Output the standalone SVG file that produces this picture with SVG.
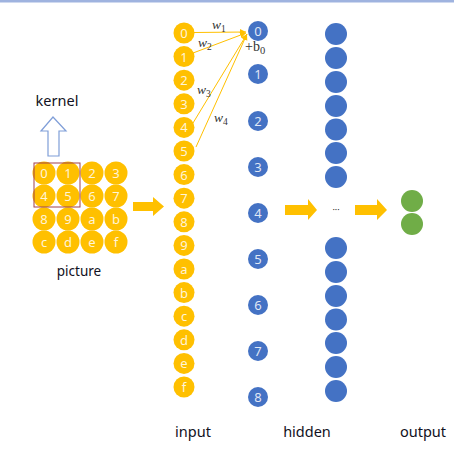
<svg xmlns="http://www.w3.org/2000/svg" width="454" height="465" viewBox="0 0 454 465">
<style>
.y{fill:#FFC000}
.b{fill:#4472C4}
.g{fill:#70AD47}
.n{font-family:"Noto Sans","Liberation Sans",sans-serif;font-size:13px;fill:#ffffff;fill-opacity:0.85;text-anchor:middle;dominant-baseline:central}
.lbl{font-family:"Noto Sans","Liberation Sans",sans-serif;font-size:14.5px;fill:#111122}
.w{font-family:"Liberation Serif",serif;font-style:italic;font-size:13.5px;fill:#333}
.bias{font-family:"Liberation Serif",serif;font-size:14px;fill:#333}
.big{fill:#FFC000}
.wl{stroke:#FFC000;stroke-width:1;fill:none}
</style>
<defs>
<marker id="ah" markerWidth="8" markerHeight="8" refX="6" refY="3" orient="auto" markerUnits="userSpaceOnUse">
<path d="M0,0 L6,3 L0,6 z" fill="#FFC000"/>
</marker>
</defs>
<rect x="0" y="0" width="454" height="2.5" fill="#9fb3df"/>

<g id="kernel">
<polygon points="53,117 66,131 59,131 59,156 48,156 48,131 41,131" fill="#ffffff" stroke="#7f9ed8" stroke-width="1.2"/>
<text class="lbl" x="57" y="106" text-anchor="middle">kernel</text>
</g>

<g id="picture">
<g class="y">
<circle cx="44" cy="173" r="11.5"/><circle cx="68" cy="173" r="11.5"/><circle cx="92" cy="173" r="11.5"/><circle cx="116" cy="173" r="11.5"/>
<circle cx="44" cy="196" r="11.5"/><circle cx="68" cy="196" r="11.5"/><circle cx="92" cy="196" r="11.5"/><circle cx="116" cy="196" r="11.5"/>
<circle cx="44" cy="219" r="11.5"/><circle cx="68" cy="219" r="11.5"/><circle cx="92" cy="219" r="11.5"/><circle cx="116" cy="219" r="11.5"/>
<circle cx="44" cy="242" r="11.5"/><circle cx="68" cy="242" r="11.5"/><circle cx="92" cy="242" r="11.5"/><circle cx="116" cy="242" r="11.5"/>
</g>
<g class="n">
<text x="44" y="173">0</text><text x="68" y="173">1</text><text x="92" y="173">2</text><text x="116" y="173">3</text>
<text x="44" y="196">4</text><text x="68" y="196">5</text><text x="92" y="196">6</text><text x="116" y="196">7</text>
<text x="44" y="219">8</text><text x="68" y="219">9</text><text x="92" y="219">a</text><text x="116" y="219">b</text>
<text x="44" y="242">c</text><text x="68" y="242">d</text><text x="92" y="242">e</text><text x="116" y="242">f</text>
</g>
<rect x="34" y="163" width="46" height="44" fill="none" stroke="#a0414b" stroke-width="1"/>
<text class="lbl" x="79" y="276" text-anchor="middle" style="font-size:13.5px">picture</text>
</g>

<g id="input">
<g class="y">
<circle cx="184" cy="33" r="10.5"/><circle cx="184" cy="56.6" r="10.5"/><circle cx="184" cy="80.2" r="10.5"/><circle cx="184" cy="103.8" r="10.5"/>
<circle cx="184" cy="127.4" r="10.5"/><circle cx="184" cy="151" r="10.5"/><circle cx="184" cy="174.6" r="10.5"/><circle cx="184" cy="198.2" r="10.5"/>
<circle cx="184" cy="221.8" r="10.5"/><circle cx="184" cy="245.4" r="10.5"/><circle cx="184" cy="269" r="10.5"/><circle cx="184" cy="292.6" r="10.5"/>
<circle cx="184" cy="316.2" r="10.5"/><circle cx="184" cy="339.8" r="10.5"/><circle cx="184" cy="363.4" r="10.5"/><circle cx="184" cy="387" r="10.5"/>
</g>
<g class="n">
<text x="184" y="33">0</text><text x="184" y="56.6">1</text><text x="184" y="80.2">2</text><text x="184" y="103.8">3</text>
<text x="184" y="127.4">4</text><text x="184" y="151">5</text><text x="184" y="174.6">6</text><text x="184" y="198.2">7</text>
<text x="184" y="221.8">8</text><text x="184" y="245.4">9</text><text x="184" y="269">a</text><text x="184" y="292.6">b</text>
<text x="184" y="316.2">c</text><text x="184" y="339.8">d</text><text x="184" y="363.4">e</text><text x="184" y="387">f</text>
</g>
<text class="lbl" x="193" y="437" text-anchor="middle">input</text>
</g>

<g id="hidden1">
<g class="b">
<circle cx="258" cy="31" r="10"/><circle cx="258" cy="74" r="10"/><circle cx="258" cy="121" r="10"/>
<circle cx="258" cy="167" r="10"/><circle cx="258" cy="213" r="10"/><circle cx="258" cy="259" r="10"/>
<circle cx="258" cy="305" r="10"/><circle cx="258" cy="351" r="10"/><circle cx="258" cy="397" r="10"/>
</g>
<g class="n">
<text x="258" y="31">0</text><text x="258" y="74">1</text><text x="258" y="121">2</text>
<text x="258" y="167">3</text><text x="258" y="213">4</text><text x="258" y="259">5</text>
<text x="258" y="305">6</text><text x="258" y="351">7</text><text x="258" y="397">8</text>
</g>
<text class="bias" x="245" y="51">+b<tspan font-size="10.5" dy="3">0</tspan></text>
</g>

<g id="hidden2">
<g class="b">
<circle cx="336" cy="34" r="11"/><circle cx="336" cy="58" r="11"/><circle cx="336" cy="82" r="11"/><circle cx="336" cy="106" r="11"/>
<circle cx="336" cy="129.5" r="11"/><circle cx="336" cy="153" r="11"/><circle cx="336" cy="177" r="11"/>
<circle cx="336" cy="248" r="11"/><circle cx="336" cy="272" r="11"/><circle cx="336" cy="296" r="11"/><circle cx="336" cy="319.5" r="11"/>
<circle cx="336" cy="343" r="11"/><circle cx="336" cy="367" r="11"/><circle cx="336" cy="391" r="11"/>
</g>
<text x="336" y="213" text-anchor="middle" style="font-family:'Noto Sans',sans-serif;font-size:9px;fill:#333">···</text>
<text class="lbl" x="307" y="437" text-anchor="middle">hidden</text>
</g>

<g id="output">
<circle class="g" cx="412" cy="201" r="11"/>
<circle class="g" cx="412" cy="224" r="11"/>
<text class="lbl" x="423" y="437" text-anchor="middle">output</text>
</g>

<g id="connectors">
<line class="wl" x1="194" y1="32.5" x2="246" y2="32" marker-end="url(#ah)"/>
<line class="wl" x1="193" y1="53" x2="246" y2="33" marker-end="url(#ah)"/>
<line class="wl" x1="193" y1="123" x2="247" y2="34" marker-end="url(#ah)"/>
<line class="wl" x1="196" y1="147" x2="247" y2="34" marker-end="url(#ah)"/>
<polygon class="big" points="133,202 153,202 153,197 164,206.5 153,216 153,211 133,211"/>
<polygon class="big" points="285,205 308,205 308,199 317,210 308,220 308,215 285,215"/>
<polygon class="big" points="355,205 377,205 377,199 387,210 377,220 377,215 355,215"/>
<text class="w" x="212" y="29">w<tspan font-size="9.5" dy="3" font-style="normal">1</tspan></text>
<text class="w" x="198" y="47">w<tspan font-size="9.5" dy="3" font-style="normal">2</tspan></text>
<text class="w" x="197" y="94">w<tspan font-size="9.5" dy="3" font-style="normal">3</tspan></text>
<text class="w" x="214" y="122">w<tspan font-size="9.5" dy="3" font-style="normal">4</tspan></text>
</g>
</svg>
